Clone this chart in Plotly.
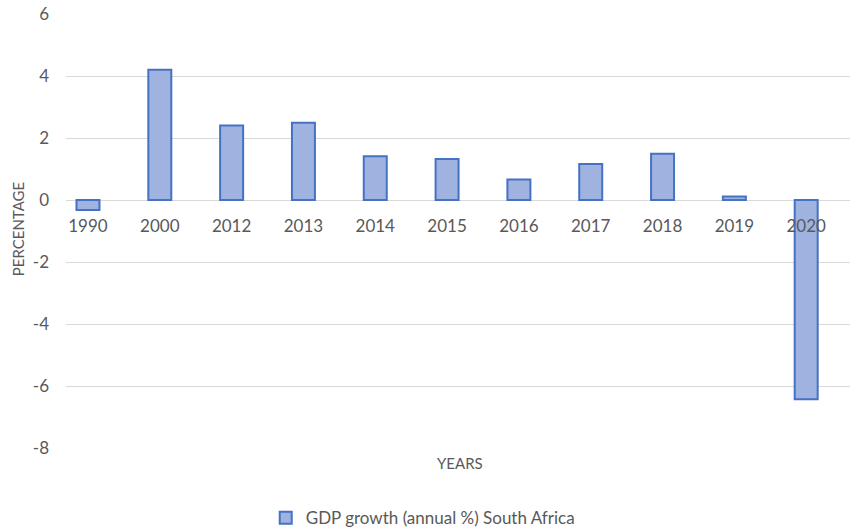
import plotly.graph_objects as go

years = ["1990", "2000", "2012", "2013", "2014", "2015", "2016", "2017", "2018", "2019", "2020"]
gdp_growth = [-0.32, 4.2, 2.4, 2.49, 1.41, 1.32, 0.66, 1.16, 1.49, 0.11, -6.43]
y_ticks = [6, 4, 2, 0, -2, -4, -6, -8]
y_tick_text = ["6", "4", "2", "0", "-2", "-4", "-6", "-8"]

FONT = "Lato"
GREY = "#595959"
GRID = "#d9d9d9"

fig = go.Figure()
fig.add_trace(go.Bar(
    x=years,
    y=gdp_growth,
    name="GDP growth (annual %) South Africa",
    width=0.32,
    marker=dict(color="#a0b2df", line=dict(color="#4472c4", width=2)),
))

y_min, y_max = -8, 6
zero_pos = (0 - y_min) / (y_max - y_min)

fig.update_layout(
    width=850,
    height=530,
    margin=dict(l=66, r=0, t=14, b=82, autoexpand=False),
    plot_bgcolor="white",
    paper_bgcolor="white",
    font=dict(family=FONT, size=17, color=GREY),
    showlegend=True,
    legend=dict(
        orientation="h",
        x=0.455, xanchor="center",
        y=-0.162, yanchor="middle",
        font=dict(family=FONT, size=17, color=GREY),
        itemwidth=30,
    ),
    xaxis=dict(
        type="category",
        range=[-0.306, 10.61],
        anchor="free",
        position=zero_pos,
        showgrid=False,
        showline=False,
        ticks="",
        ticklabelstandoff=14,
        tickfont=dict(family=FONT, size=17, color=GREY),
    ),
    yaxis=dict(
        range=[y_min, y_max],
        tickvals=y_ticks,
        ticktext=y_tick_text,
        showgrid=True,
        gridcolor=GRID,
        gridwidth=1,
        zeroline=True,
        zerolinecolor=GRID,
        zerolinewidth=1,
        showline=False,
        ticks="",
        ticklabelstandoff=16,
        tickfont=dict(family=FONT, size=17, color=GREY),
    ),
    annotations=[
        dict(text="PERCENTAGE", textangle=-90, xref="paper", yref="paper",
             x=-0.062, y=0.505, showarrow=False, xanchor="center", yanchor="middle",
             font=dict(family=FONT, size=15, color=GREY)),
        dict(text="YEARS", xref="paper", yref="paper",
             x=(460 - 66) / 784, y=-0.035, showarrow=False, xanchor="center", yanchor="middle",
             font=dict(family=FONT, size=15, color=GREY)),
    ],
)

fig.write_html("out.html")
